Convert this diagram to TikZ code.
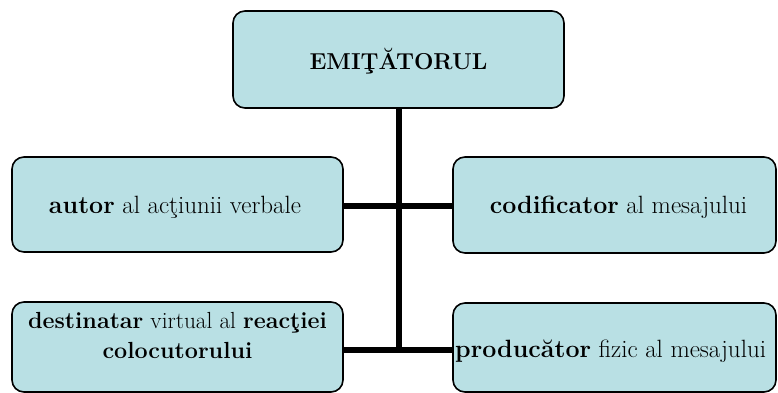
\documentclass[tikz,border=0pt]{standalone}
\usepackage{fontspec}
\definecolor{boxfill}{RGB}{185,224,228}
\begin{document}
\begin{tikzpicture}[x=1pt,y=-1pt,
  box/.style={draw=black,line width=1.6pt,fill=boxfill,rounded corners=12pt,inner sep=0pt,outer sep=0pt},
  conn/.style={line width=6pt,black},
  txt/.style={inner sep=0pt,font=\fontsize{25}{30.5}\selectfont}]
\useasboundingbox (0,0) rectangle (778,393);
% connectors
\coordinate (j1) at (399,206);
\coordinate (j2) at (399,350);
% boxes
\node[box,minimum width=331pt,minimum height=97pt] (top) at (398.5,59.5) {};
\node[box,minimum width=331pt,minimum height=95pt] (tl) at (177.5,204.5) {};
\node[box,minimum width=323pt,minimum height=96pt] (tr) at (614.5,205) {};
\node[box,minimum width=331pt,minimum height=90pt] (bl) at (177.5,347) {};
\node[box,minimum width=323pt,minimum height=89pt] (br) at (614.5,347.5) {};
\draw[conn] (top.south -| j1) -- (j2);
\draw[conn] (tl.east |- j1) -- (tr.west |- j1);
\draw[conn] (bl.east |- j2) -- (br.west |- j2);
% texts
\node[txt,anchor=base,font=\fontsize{23}{30}\selectfont] (ttop) at (398.5,70) {\textbf{EMIŢĂTORUL}};
\node[txt,anchor=base] (ttl) at (175,213) {\textbf{autor} al acţiunii verbale};
\node[txt,anchor=base] (ttr) at (618.5,213) {\textbf{codificator} al mesajului};
\node[txt,anchor=base,font=\fontsize{23.3}{30}\selectfont] (tbl) at (177.5,328) {\vtop{\halign{\hfil#\hfil\cr\textbf{destinatar} virtual al \textbf{reacţiei}\cr\textbf{colocutorului}\cr}}};
\node[txt,anchor=base west] (tbr) at (455,357) {\textbf{producător} fizic al mesajului};
\end{tikzpicture}
\end{document}
